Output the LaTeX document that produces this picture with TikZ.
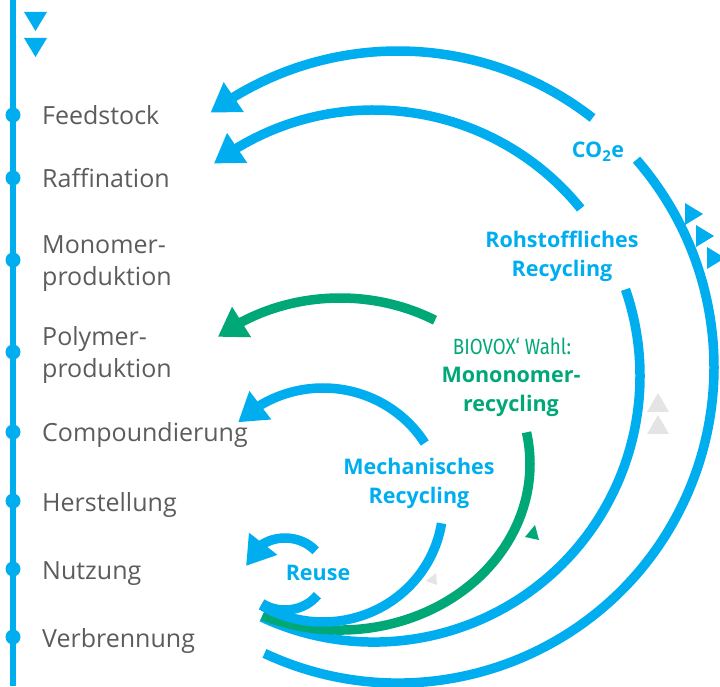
\documentclass[tikz,border=0pt]{standalone}
\usepackage{fontspec}
\setmainfont{Open Sans}
\newfontfamily\condfont[FakeStretch=0.85]{Fira Sans}
\usetikzlibrary{arrows.meta,bending}
\definecolor{loopblue}{RGB}{0,174,239}
\definecolor{loopgreen}{RGB}{0,168,120}
\definecolor{stagegray}{RGB}{92,92,92}
\definecolor{hintgray}{RGB}{228,228,228}
\tikzset{
  flowarc/.style={line width=9.5pt,draw=loopblue},
  flowarc tip/.style={flowarc,-{Triangle[length=28pt,width=34pt]}},
  green flowarc/.style={flowarc,draw=loopgreen},
  green flowarc tip/.style={green flowarc,-{Triangle[length=28pt,width=34pt]}},
  stage dot/.style={circle,fill=loopblue,inner sep=0pt,minimum size=15pt},
  stage/.style={anchor=base west,align=left,text=stagegray,inner sep=0pt,
    font=\fontsize{25}{32}\selectfont},
  loop label/.style={align=center,text=loopblue,inner sep=0pt,
    font=\fontsize{21.5}{29}\selectfont\bfseries},
  marker/.style={fill=loopblue},
  hint/.style={fill=hintgray}
}

\begin{document}
\begin{tikzpicture}[x=1pt,y=1pt]
  \useasboundingbox (0,0) rectangle (720,686);

  % value chain on the left
  \coordinate (lineTop) at (13,686);
  \coordinate (lineBot) at (13,0);
  \draw[loopblue,line width=5.5pt] (lineTop) -- (lineBot);
  \foreach \name/\dy/\by/\txt in {
      feed/571/561/Feedstock,
      raff/508/498/Raffination,
      mono/426/400/{Monomer-\\produktion},
      poly/334/308/{Polymer-\\produktion},
      comp/254/244/Compoundierung,
      herst/185/175/Herstellung,
      nutz/117/107/Nutzung,
      verb/49/39/Verbrennung}{
    \node[stage dot] (dot-\name) at (13,\dy) {};
    \node[stage] (lbl-\name) at (42,\by) {\txt};
  }
  \foreach \ty in {674,648}
    \fill[marker] (24,\ty) -- (47,\ty) -- (35.5,\ty-19) -- cycle;

  % loop centres
  \coordinate (cFeed) at (398,319);
  \coordinate (cRaff) at (374,310);
  \coordinate (cPoly) at (340,222);
  \coordinate (cComp) at (323,181);
  \coordinate (cReuse) at (285,112);

  % CO2e back to feedstock
  \draw[flowarc] ([shift={(-115:316)}]cFeed)
    arc[start angle=-115,end angle=41,radius=316];
  \draw[flowarc tip] ([shift={(52:316)}]cFeed)
    arc[start angle=52,end angle=126.4,radius=316];
  \node[loop label] (co2) at (598,534) {CO\textsubscript{2}e};

  % rohstoffliches recycling
  \draw[flowarc] ([shift={(-115:266)}]cRaff)
    arc[start angle=-115,end angle=19,radius=266];
  \draw[flowarc tip] ([shift={(39:266)}]cRaff)
    arc[start angle=39,end angle=127,radius=266];
  \node[loop label] (rohst) at (562,430) {Rohstoffliches\\Recycling};

  % monomer loop
  \draw[green flowarc] ([shift={(-114:190 and 166)}]cPoly)
    arc[start angle=-114,end angle=11,x radius=190,y radius=166];
  \draw[green flowarc tip] ([shift={(60:190 and 166)}]cPoly)
    arc[start angle=60,end angle=130,x radius=190,y radius=166];
  \node[text=loopgreen,inner sep=0pt,font=\condfont\fontsize{22}{26}\selectfont]
    (biovox) at (512,340) {BIOVOX‘ Wahl:};
  \node[loop label,text=loopgreen] (mono) at (511,294) {Mononomer-\\recycling};

  % mechanical loop
  \draw[flowarc] ([shift={(-121:120 and 117)}]cComp)
    arc[start angle=-121,end angle=-9,x radius=120,y radius=117];
  \draw[flowarc tip] ([shift={(32:120 and 117)}]cComp)
    arc[start angle=32,end angle=135,x radius=120,y radius=117];
  \node[loop label] (mech) at (419,203) {Mechanisches\\Recycling};

  % reuse
  \draw[flowarc] ([shift={(-125:40 and 36)}]cReuse)
    arc[start angle=-125,end angle=-36,x radius=40,y radius=36];
  \draw[flowarc tip] ([shift={(40:40 and 36)}]cReuse)
    arc[start angle=40,end angle=167,x radius=40,y radius=36];
  \node[loop label] (reuse) at (318,113) {Reuse};

  % small direction marks
  \foreach \tx/\ty in {685/483,696/461,707/439}
    \fill[marker] (\tx,\ty) -- (\tx+18,\ty-11) -- (\tx,\ty-22) -- cycle;
  \foreach \ty in {274,252}
    \fill[hint] (647,\ty) -- (669,\ty) -- (658,\ty+19) -- cycle;
  \fill[loopgreen] (535,161) -- (525,149) -- (539,146) -- cycle;
  \fill[hint] (436,113) -- (426,105) -- (437,101) -- cycle;
\end{tikzpicture}
\end{document}
